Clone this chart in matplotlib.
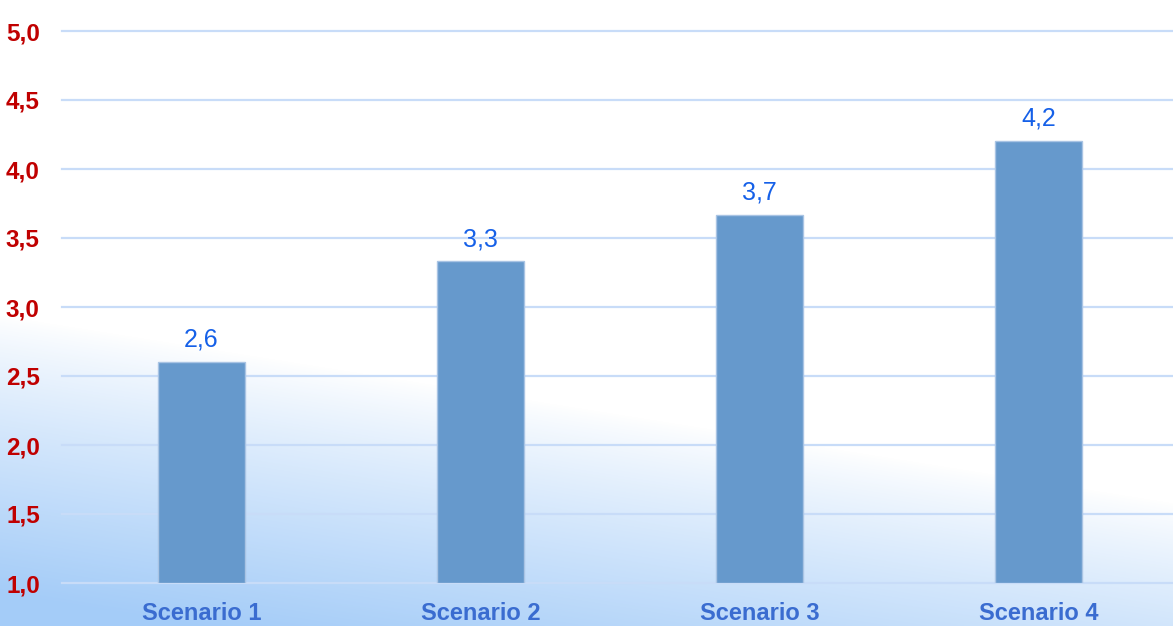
import numpy as np
import matplotlib
matplotlib.use("Agg")
import matplotlib.pyplot as plt
from matplotlib.ticker import MultipleLocator, FuncFormatter

plt.rcParams["font.family"] = ["Liberation Sans", "DejaVu Sans"]

scenarios = ["Scenario 1", "Scenario 2", "Scenario 3", "Scenario 4"]
values = [2.6, 3.33, 3.67, 4.2]

W, H, DPI = 1173, 626, 100
fig = plt.figure(figsize=(W / DPI, H / DPI), dpi=DPI)

# diagonal background wash: light blue bottom-left fading to white top-right
bg = fig.add_axes([0, 0, 1, 1], zorder=-10)
px, py = np.meshgrid(np.arange(W), np.arange(H))
d = (py - 315 - 0.16 * px) / 280.0
t = np.clip(d, 0, 1) ** 0.85
t = t[..., None]
blue = np.array([0xA4, 0xCC, 0xF8]) / 255.0
img = (1 - t) * np.ones(3) + t * blue
bg.imshow(img, aspect="auto", extent=[0, 1, 0, 1], origin="upper")
bg.axis("off")

ax = fig.add_axes([62 / W, (H - 583) / H, 1116 / W, (583 - 31) / H])
ax.patch.set_alpha(0)

x = np.arange(len(scenarios))
bars = ax.bar(x, [v - 1.0 for v in values], width=0.313, bottom=1.0,
              color="#6699CC", edgecolor="#A9C4E4", linewidth=1, zorder=3)
for b, v in zip(bars, values):
    ax.annotate(f"{v:.1f}".replace(".", ","), (b.get_x() + b.get_width() / 2, v),
                xytext=(0, 7.5), textcoords="offset points",
                ha="center", va="bottom", fontsize=18, color="#1560E8")

ax.set_xlim(-0.5, len(scenarios) - 0.5)
ax.set_ylim(1.0, 5.0)
ax.yaxis.set_major_locator(MultipleLocator(0.5))
ax.yaxis.set_major_formatter(FuncFormatter(lambda v, p: f"{v:.1f}".replace(".", ",")))
ax.grid(axis="y", color="#C8DCF8", linewidth=1.6, zorder=0)
ax.set_axisbelow(True)
for gl in ax.yaxis.get_gridlines():
    gl.set_clip_on(False)

ax.set_xticks(x)
ax.set_xticklabels(scenarios, fontsize=17, fontweight="bold", color="#3A6CD0")
for lbl in ax.get_yticklabels():
    lbl.set_fontsize(17.5)
    lbl.set_fontweight("bold")
    lbl.set_color("#C00000")
ax.tick_params(axis="y", length=0, pad=16)
ax.tick_params(axis="x", length=0, pad=14)
for s in ax.spines.values():
    s.set_visible(False)

fig.savefig("out.png", dpi=DPI)
